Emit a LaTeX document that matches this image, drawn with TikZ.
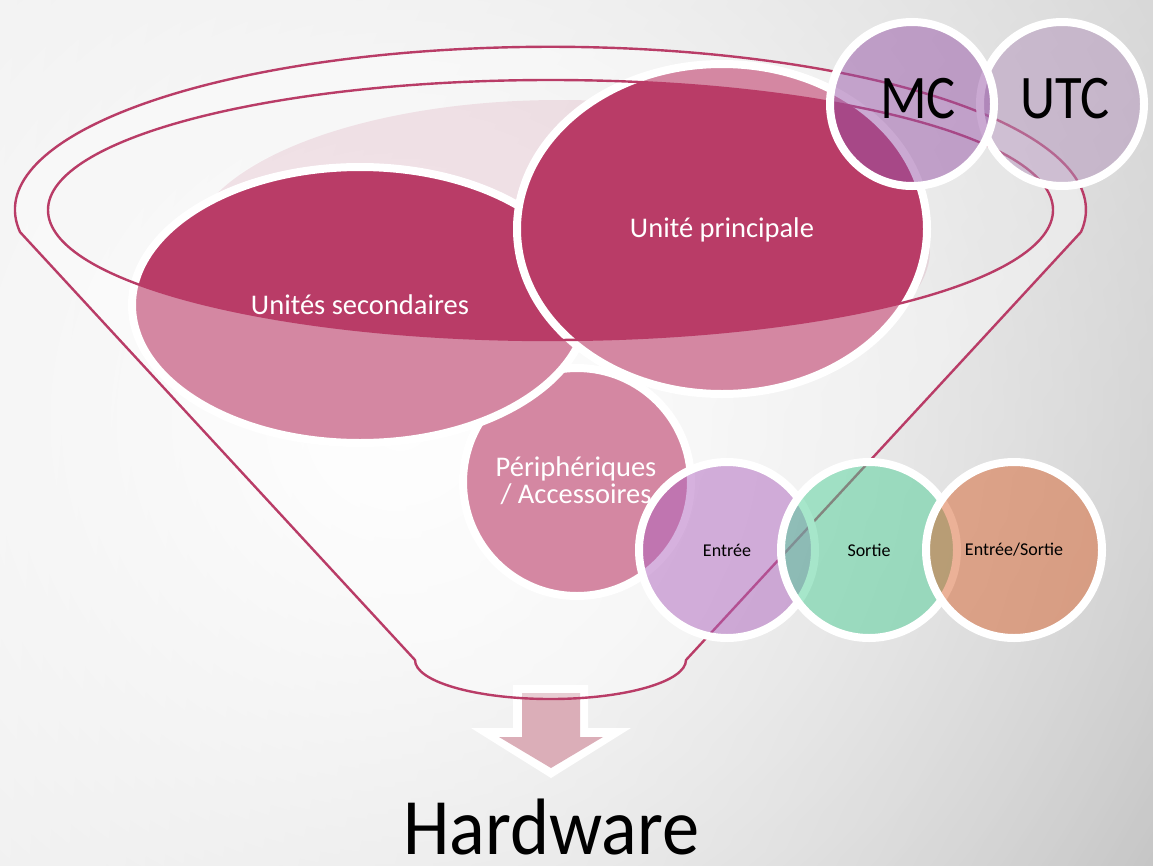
\documentclass[tikz,border=0pt]{standalone}
\usepackage{fontspec}
\setmainfont{Carlito}
\newfontfamily\hwfont[FakeStretch=0.93]{Carlito}
\newfontfamily\bigfont[FakeStretch=0.88]{Carlito}
\usetikzlibrary{shapes.geometric,fadings,shadings}
\definecolor{funred}{RGB}{185,60,103}
\definecolor{bgUL}{RGB}{226,226,226}
\definecolor{bgUR}{RGB}{192,192,192}
\definecolor{bgLL}{RGB}{224,224,224}
\definecolor{bgLR}{RGB}{164,164,164}
\definecolor{arrowpink}{RGB}{219,174,184}
\definecolor{mcpurple}{RGB}{151,85,167}
\definecolor{utcpurple}{RGB}{179,147,187}
\definecolor{inpurple}{RGB}{174,100,190}
\definecolor{outgreen}{RGB}{79,207,151}
\definecolor{ioorange}{RGB}{216,100,48}
\tikzfading[name=glowfade, inner color=transparent!0, outer color=transparent!100]
\begin{document}
\begin{tikzpicture}[x=1pt, y=-1pt,
  funnelline/.style={draw=funred, line width=2.4pt},
  bigcirc/.style={ellipse, inner sep=0pt, draw=white, line width=8pt, fill=funred},
  smallcirc/.style={circle, inner sep=0pt, minimum size=176pt, draw=white, line width=8pt,
     fill opacity=0.5, draw opacity=1, text opacity=1, font=\fontsize{18}{20}\selectfont, text=black},
  topcirc/.style={circle, inner sep=0pt, minimum size=164pt, draw=white, line width=8pt,
     fill opacity=0.5, draw opacity=1},
  toplabel/.style={anchor=base, inner sep=0pt, text=black, font=\bigfont\fontsize{62}{64}\selectfont},
  wlabel/.style={text=white, font=\fontsize{28.5}{27}\selectfont, align=center, inner sep=0pt}
]
\useasboundingbox (0,0) rectangle (1153,865);
% background
\shade[upper left=bgUL, upper right=bgUR, lower left=bgLL, lower right=bgLR] (0,0) rectangle (1153,865);
\begin{scope}
  \clip (0,0) rectangle (1153,865);
  \fill[white, path fading=glowfade] (400,420) circle (1400pt);
\end{scope}
% back of funnel
\fill[white, fill opacity=0.2] (550.5,210) ellipse [x radius=502.5pt, y radius=130pt];
\begin{scope}
  \clip (550.5,210) ellipse [x radius=502.5pt, y radius=130pt];
  \fill[funred, fill opacity=0.12] (560,250) ellipse [x radius=370pt, y radius=150pt];
\end{scope}
% circles in the funnel
\node[bigcirc, minimum width=228pt, minimum height=228pt] (peri) at (577,482) {};
\node[bigcirc, minimum width=456pt, minimum height=276pt] (sec) at (360,305) {};
\node[bigcirc, minimum width=410pt, minimum height=330pt] (pri) at (722,229) {};
% arrow
\fill[white] (513,685) -- (588,685) -- (588,728) -- (631,728) -- (551,778) -- (471,728) -- (513,728) -- cycle;
\fill[arrowpink] (522,693) -- (580,693) -- (580,737) -- (603,737) -- (551,768) -- (499,737) -- (522,737) -- cycle;
% funnel front
\coordinate (fL) at (20,232);
\coordinate (fBR) at (686,660);
\fill[white, fill opacity=0.39, even odd rule]
  (fL) arc[start angle=187.84, end angle=-7.84, x radius=535.5pt, y radius=163pt]
  -- (fBR) arc[start angle=0, end angle=-180, x radius=135.5pt, y radius=39pt] -- cycle
  (550.5,210) ellipse [x radius=502.5pt, y radius=130pt];
\draw[funnelline, line join=round]
  (fL) arc[start angle=187.84, end angle=-7.84, x radius=535.5pt, y radius=163pt]
  -- (fBR) arc[start angle=0, end angle=-180, x radius=135.5pt, y radius=39pt] -- cycle;
\draw[funnelline] (550.5,210) ellipse [x radius=502.5pt, y radius=130pt];
% labels of funnel circles
\node[wlabel, anchor=base] (tsec) at (360,314) {Unités secondaires};
\node[wlabel, anchor=base] (tpri) at (722,237) {Unité principale};
\node[wlabel] (tperi) at (576,480.5) {Périphériques\\/ Accessoires};
% peripheral kinds
\node[smallcirc, fill=inpurple] (ent) at (727,550) {Entrée};
\node[smallcirc, fill=outgreen] (sor) at (869,550) {Sortie};
\node[smallcirc, fill=ioorange] (es) at (1014,550) {Entrée/Sortie};
% MC / UTC
\node[topcirc, fill=utcpurple] (utc) at (1062,104) {};
\node[topcirc, fill=mcpurple] (mc) at (912,104) {};
\node[toplabel] (tmc) at (918,118) {MC};
\node[toplabel] (tutc) at (1065,118) {UTC};
% title
\node[anchor=base, inner sep=0pt, font=\hwfont\fontsize{80}{80}\selectfont] (hw) at (551,854) {Hardware};
\end{tikzpicture}
\end{document}
